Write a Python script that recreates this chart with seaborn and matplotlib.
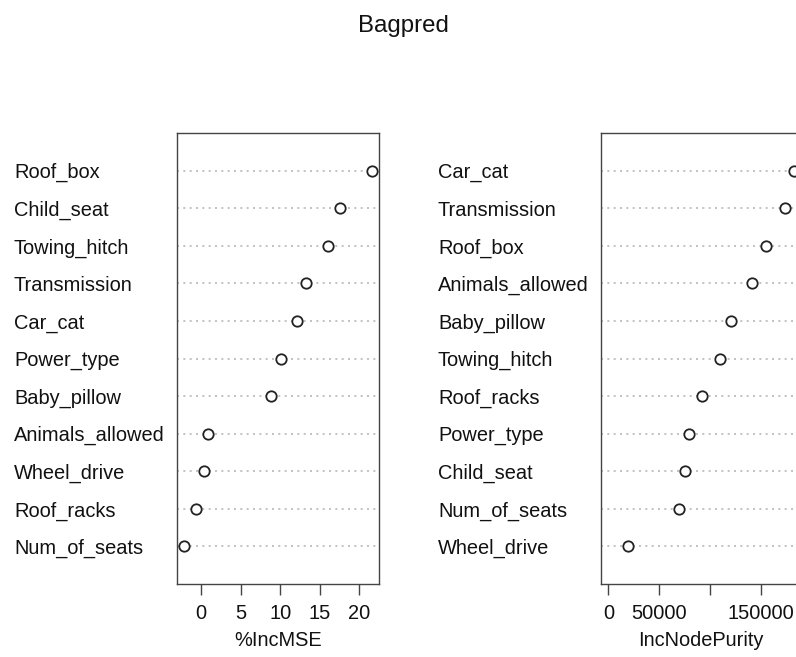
import matplotlib
matplotlib.use("Agg")
import matplotlib.pyplot as plt
import pandas as pd
import seaborn as sns

# Variable importance of the bagged model, sorted by each measure
mse_vars = ["Roof_box", "Child_seat", "Towing_hitch", "Transmission", "Car_cat",
            "Power_type", "Baby_pillow", "Animals_allowed", "Wheel_drive",
            "Roof_racks", "Num_of_seats"]
mse_vals = [21.6, 17.6, 16.0, 13.25, 12.1, 10.1, 8.9, 0.9, 0.35, -0.6, -2.1]
mse_ticks = [0, 5, 10, 15, 20]
mse_tick_labels = ["0", "5", "10", "15", "20"]

purity_vars = ["Car_cat", "Transmission", "Roof_box", "Animals_allowed",
               "Baby_pillow", "Towing_hitch", "Roof_racks", "Power_type",
               "Child_seat", "Num_of_seats", "Wheel_drive"]
purity_vals = [182500, 173400, 154900, 141100, 120400, 109500, 91800,
               79600, 75300, 69400, 19400]
purity_ticks = [0, 50000, 100000, 150000]
purity_tick_labels = ["0", "50000", "", "150000"]

sns.set_theme(style="white")
plt.rcParams["font.family"] = ["Liberation Sans", "DejaVu Sans"]

W, H, DPI = 796, 657, 100
fig = plt.figure(figsize=(W / DPI, H / DPI), dpi=DPI)
FS = 14.4
PX = 72.0 / DPI  # points per pixel


def dot_panel(rect, names, values, xmin, xlabel, ticks, tick_labels):
    ax = fig.add_axes(rect)
    n = len(names)
    df = pd.DataFrame({"name": names, "value": values,
                       "pos": list(range(n, 0, -1))})
    lo = xmin if xmin is not None else min(values)
    hi = max(values)
    d = 0.04 * (hi - lo)
    ax.set_xlim(lo - d, hi + d)
    ax.set_ylim(0, n + 1)
    for p in df["pos"]:
        ax.axhline(p, color="#b8b8b8", linewidth=1.2,
                   linestyle=(0, (1.2, 2.6)), zorder=1)
    sns.scatterplot(data=df, x="value", y="pos", ax=ax, marker="o",
                    s=56, color="white", edgecolor="#222222",
                    linewidth=1.3, zorder=3, legend=False)
    ax.set_yticks(df["pos"], labels=df["name"])
    for lbl in ax.get_yticklabels():
        lbl.set_horizontalalignment("left")
        lbl.set_fontsize(FS)
        lbl.set_color("#111111")
    ax.tick_params(axis="y", length=0, pad=163 * PX)
    ax.set_xticks(ticks, labels=tick_labels)
    ax.tick_params(axis="x", direction="out", length=11 * PX, width=1.0,
                   color="#444444", pad=9 * PX, labelsize=FS,
                   labelcolor="#111111", bottom=True)
    ax.set_xlabel(xlabel, fontsize=FS, color="#111111", labelpad=8 * PX)
    ax.set_ylabel("")
    for sp in ax.spines.values():
        sp.set_visible(True)
        sp.set_color("#444444")
        sp.set_linewidth(1.0)
    ax.grid(False)
    return ax


top_px, bot_px = 133, 584
b = (H - bot_px) / H
h = (bot_px - top_px) / H
dot_panel([177 / W, b, 202.3 / W, h], mse_vars, mse_vals, None,
          "%IncMSE", mse_ticks, mse_tick_labels)
dot_panel([601 / W, b, 200.5 / W, h], purity_vars, purity_vals, 0,
          "IncNodePurity", purity_ticks, purity_tick_labels)

fig.text(403 / W, 1 - 31.7 / H, "Bagpred", ha="center", va="baseline",
         fontsize=FS * 1.2, color="#111111")

fig.savefig("out.png", dpi=DPI)
